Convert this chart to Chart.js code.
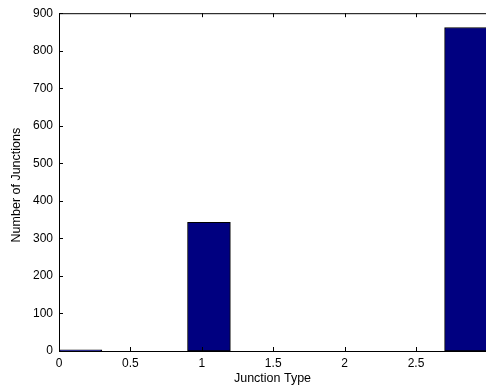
<!DOCTYPE html>
<html>
<head>
<meta charset="utf-8">
<script src="https://cdn.jsdelivr.net/npm/chart.js@4.4.1/dist/chart.umd.min.js"></script>
<style>
  html, body { margin: 0; padding: 0; background: #fff; }
  #wrap { width: 486px; height: 391px; position: relative; }
</style>
</head>
<body>
<div id="wrap"><canvas id="chart"></canvas></div>
<script>
// histogram bins (centres) and counts per bin
const binCenters = [0.15, 0.45, 0.75, 1.05, 1.35, 1.65, 1.95, 2.25, 2.55, 2.85];
const binCounts  = [3, 0, 0, 343, 0, 0, 0, 0, 0, 862];

const xTitle = 'Junction Type';
const yTitle = 'Number of Junctions';

const FONT = { family: '"Liberation Sans", Arial, sans-serif', size: 12 };
const TITLE_FONT = '12.5px "Liberation Sans", Arial, sans-serif';
const AXIS = '#000';

// inward tick marks, top frame line and axis labels, matlab style
const frameTicks = {
    id: 'frameTicks',
    afterDatasetsDraw(chart) {
        const ctx = chart.ctx;
        const a = chart.chartArea;
        const xs = chart.scales.x, ys = chart.scales.y;
        ctx.save();
        ctx.strokeStyle = AXIS;
        ctx.lineWidth = 1;
        ctx.beginPath();
        ctx.moveTo(a.left, a.top + 0.5);
        ctx.lineTo(a.right, a.top + 0.5);
        xs.ticks.forEach(t => {
            const px = Math.round(xs.getPixelForValue(t.value)) + 0.5;
            ctx.moveTo(px, a.bottom);
            ctx.lineTo(px, a.bottom - 4);
            ctx.moveTo(px, a.top);
            ctx.lineTo(px, a.top + 4);
        });
        ys.ticks.forEach(t => {
            const py = Math.round(ys.getPixelForValue(t.value)) + 0.5;
            ctx.moveTo(a.left, py);
            ctx.lineTo(a.left + 4, py);
        });
        ctx.stroke();

        // axis labels
        ctx.fillStyle = '#000';
        ctx.font = TITLE_FONT;
        ctx.textAlign = 'center';
        ctx.textBaseline = 'middle';
        ctx.fillText(xTitle, (a.left + a.right) / 2, a.bottom + 28);
        ctx.translate(17, (a.top + a.bottom) / 2 + 3);
        ctx.rotate(-Math.PI / 2);
        ctx.fillText(yTitle, 0, 0);
        ctx.restore();
    }
};

new Chart(document.getElementById('chart'), {
    type: 'bar',
    data: {
        datasets: [{
            data: binCenters.map((x, i) => ({ x: x, y: binCounts[i] })),
            backgroundColor: '#000080',
            borderColor: '#000',
            borderWidth: 1,
            borderSkipped: false,
            barPercentage: 1,
            categoryPercentage: 1
        }]
    },
    options: {
        responsive: true,
        maintainAspectRatio: false,
        animation: false,
        layout: { padding: { top: 13, right: 0, left: 0, bottom: 0 } },
        plugins: {
            legend: { display: false },
            tooltip: { enabled: false }
        },
        scales: {
            x: {
                type: 'linear',
                min: 0,
                max: 2.99,
                offset: false,
                grid: { display: false, drawTicks: false },
                border: { display: true, color: AXIS, width: 1 },
                ticks: {
                    stepSize: 0.5,
                    includeBounds: false,
                    color: '#000',
                    font: FONT,
                    padding: 5,
                    maxRotation: 0,
                    callback: v => String(v)
                },
                afterFit(scale) { scale.height = 40; }
            },
            y: {
                min: 0,
                max: 900,
                grid: { display: false, drawTicks: false },
                border: { display: true, color: AXIS, width: 1 },
                ticks: {
                    stepSize: 100,
                    color: '#000',
                    font: FONT,
                    padding: 6
                },
                afterFit(scale) { scale.width = 59; }
            }
        }
    },
    plugins: [frameTicks]
});
</script>
</body>
</html>
